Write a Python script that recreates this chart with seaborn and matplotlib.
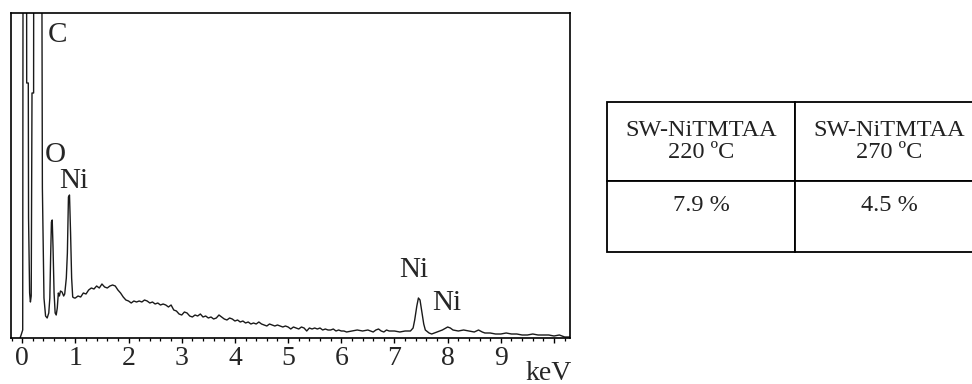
import numpy as np
import pandas as pd
import seaborn as sns
import matplotlib
matplotlib.use("Agg")
import matplotlib.pyplot as plt
from matplotlib.ticker import FixedLocator, FixedFormatter, MultipleLocator

# EDS spectrum (arbitrary counts, 325 = top of frame)
energy_kev = [
    -0.04, -0.02, 0.01, 0.02, 0.08, 0.085, 0.115, 0.12, 0.14, 0.155, 0.17,
    0.185, 0.215, 0.22, 0.36, 0.38, 0.41, 0.44, 0.47, 0.50, 0.52, 0.535,
    0.55, 0.565, 0.58, 0.60, 0.62, 0.64, 0.66, 0.68, 0.70, 0.72, 0.75,
    0.78, 0.80, 0.83, 0.85, 0.87, 0.89, 0.91, 0.93, 0.95, 0.98,
    1.00, 1.05, 1.10, 1.15, 1.20, 1.25, 1.30, 1.35, 1.40, 1.45, 1.50,
    1.55, 1.60, 1.65, 1.70, 1.75, 1.80, 1.85, 1.90, 1.95, 2.00, 2.05,
    2.10, 2.15, 2.20, 2.25, 2.30, 2.35, 2.40, 2.45, 2.50, 2.55, 2.60,
    2.65, 2.70, 2.75, 2.80, 2.85, 2.90, 2.95, 3.00, 3.05, 3.10, 3.15,
    3.20, 3.25, 3.30, 3.35, 3.40, 3.45, 3.50, 3.55, 3.60, 3.65, 3.70,
    3.75, 3.80, 3.85, 3.90, 3.95, 4.00, 4.05, 4.10, 4.15, 4.20, 4.25,
    4.30, 4.35, 4.40, 4.45, 4.50, 4.55, 4.60, 4.65, 4.70, 4.75, 4.80,
    4.85, 4.90, 4.95, 5.00, 5.05, 5.10, 5.15, 5.20, 5.25, 5.30, 5.35,
    5.40, 5.45, 5.50, 5.55, 5.60, 5.65, 5.70, 5.75, 5.80, 5.85, 5.90,
    5.95, 6.00, 6.05, 6.10, 6.20, 6.30, 6.40, 6.50, 6.55, 6.60, 6.65,
    6.70, 6.75, 6.80, 6.85, 6.90, 7.00, 7.10, 7.20, 7.30, 7.35, 7.38,
    7.42, 7.45, 7.48, 7.51, 7.55, 7.58, 7.65, 7.70, 7.80, 7.90, 8.00,
    8.05, 8.10, 8.20, 8.30, 8.40, 8.50, 8.58, 8.65, 8.70, 8.80, 8.90,
    9.00, 9.10, 9.20, 9.30, 9.40, 9.50, 9.60, 9.70, 9.80, 9.90, 10.00,
    10.10, 10.20, 10.30,
]
counts = [
    0, 3, 8, 600, 600, 255, 255, 120, 45, 36, 42,
    245, 245, 600, 600, 150, 40, 22, 20, 25, 40, 81,
    116, 118, 91, 45, 25, 23, 30, 45, 42, 47, 46,
    42, 44, 60, 85, 141, 143, 105, 60, 41, 40,
    40, 42, 41, 45, 44, 48, 50, 49, 52, 50, 54,
    51, 50, 52, 53, 52, 48, 45, 41, 38, 37, 35,
    37, 36, 37, 36, 38, 37, 35, 36, 34, 35, 33,
    34, 33, 31, 33, 28, 27, 24, 23, 26, 25, 22,
    21, 23, 22, 24, 21, 22, 20, 21, 19, 20, 23,
    21, 19, 18, 20, 19, 17, 18, 16, 17, 15, 16,
    14, 15, 14, 16, 14, 13, 12, 14, 13, 12, 13,
    12, 11, 12, 11, 9, 11, 10, 9, 11, 10, 7,
    10, 9, 10, 9, 10, 8, 9, 8, 8, 9, 7,
    8, 7, 7, 6, 7, 8, 7, 8, 7, 6, 8,
    9, 7, 6, 8, 7, 7, 6, 7, 7, 10, 18,
    32, 40, 38, 28, 14, 8, 5, 4, 6, 8, 11,
    10, 8, 7, 8, 7, 6, 8, 6, 5, 5, 4,
    4, 5, 4, 4, 3, 3, 4, 3, 3, 3, 2,
    3, 1, 1,
]

# peak labels: text, energy of left edge, baseline height
peak_names = ["C", "O", "Ni", "Ni", "Ni"]
peak_x = [0.48, 0.42, 0.70, 7.09, 7.70]
peak_y = [296, 176, 150, 61, 28]

# composition table
table_cols = ["SW-NiTMTAA\n220 ºC", "SW-NiTMTAA\n270 ºC"]
table_vals = ["7.9 %", "4.5 %"]

sns.set_theme(style="white")
plt.rcParams["font.family"] = ["Liberation Serif", "DejaVu Serif"]

df = pd.DataFrame({"keV": energy_kev, "counts": counts})

fig = plt.figure(figsize=(9.72, 3.84), dpi=100)
ax = fig.add_axes([11 / 972, 1 - 338 / 384, 559 / 972, 325 / 384])

sns.lineplot(data=df, x="keV", y="counts", ax=ax, sort=False,
             estimator=None, color="#1a1a1a", linewidth=1.0)

ax.set_xlim(-0.21, 10.3)
ax.set_ylim(0, 325)
ax.set_xlabel("")
ax.set_ylabel("")
ax.set_yticks([])

ax.xaxis.set_major_locator(FixedLocator(list(range(11))))
ax.xaxis.set_major_formatter(FixedFormatter([str(i) for i in range(10)] + [""]))
ax.xaxis.set_minor_locator(MultipleLocator(0.2))
ax.tick_params(axis="x", which="major", direction="out", length=3.6, width=1,
               color="black", labelsize=20, pad=2.5, bottom=True)
ax.tick_params(axis="x", which="minor", direction="out", length=2.2, width=0.9,
               color="black", bottom=True)
for s in ax.spines.values():
    s.set_color("black")
    s.set_linewidth(1.2)

ax.text(9.89, -0.108, "keV", transform=ax.get_xaxis_transform(),
        ha="center", va="center", fontsize=20)

for name, px, py in zip(peak_names, peak_x, peak_y):
    ax.text(px, py, name, ha="left", va="baseline", fontsize=21)

# table on the right, runs off the right edge like the original
tax = fig.add_axes([607 / 972, 1 - 252 / 384, 376 / 972, 150 / 384])
tax.axis("off")
tab = tax.table(cellText=[[v + "\n" for v in table_vals]], colLabels=table_cols,
                cellLoc="center", bbox=[0, 0, 1, 1])
tab.auto_set_font_size(False)
tab.set_fontsize(17.5)
for (r, c), cell in tab.get_celld().items():
    cell.set_height(0.79 if r == 0 else 0.71)
    cell.set_linewidth(1.3)
    cell.set_edgecolor("black")
    cell.get_text().set_color("#222222")
    cell.get_text().set_linespacing(1.12)

fig.savefig("out.png", dpi=100)
